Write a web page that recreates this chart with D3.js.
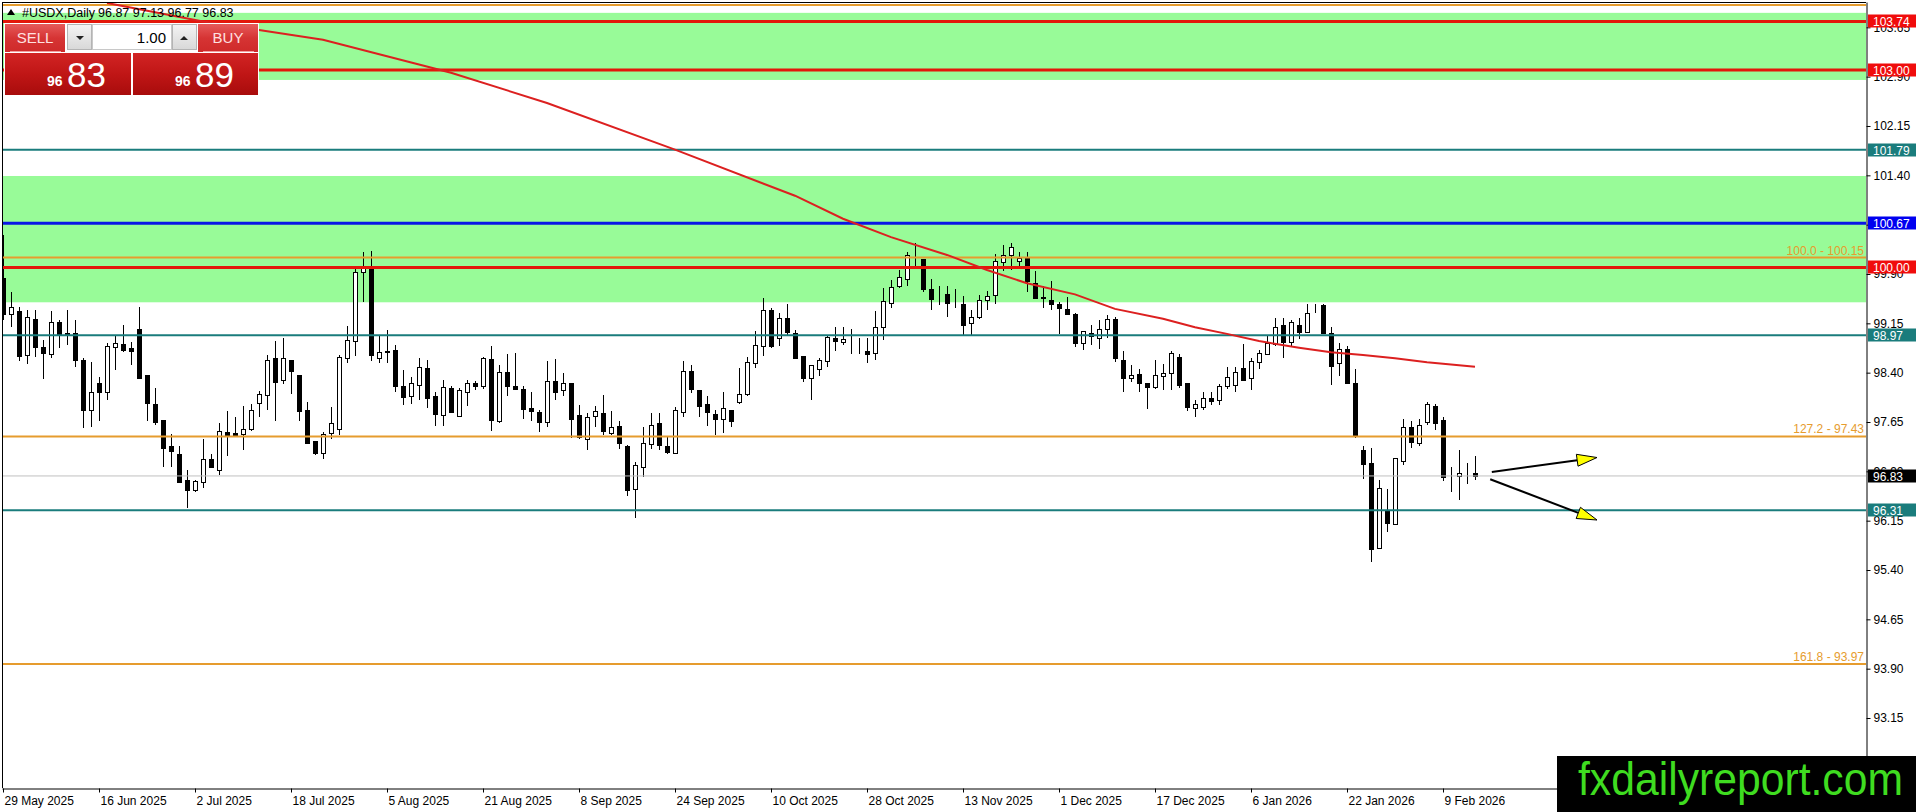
<!DOCTYPE html>
<html lang="en"><head><meta charset="utf-8">
<title>#USDX,Daily</title>
<script src="https://cdn.jsdelivr.net/npm/d3@7"></script>
<style>
body { margin: 0; background: #fff; overflow: hidden; }
svg { display: block; }
text { font-family: "Liberation Sans", Arial, sans-serif; }
</style>
</head>
<body>
<div id="chart"></div>
<script>
// ---- data ----
const dateTicks = ["29 May 2025", "16 Jun 2025", "2 Jul 2025", "18 Jul 2025", "5 Aug 2025", "21 Aug 2025",
	"8 Sep 2025", "24 Sep 2025", "10 Oct 2025", "28 Oct 2025", "13 Nov 2025", "1 Dec 2025",
	"17 Dec 2025", "6 Jan 2026", "22 Jan 2026", "9 Feb 2026"];
const dateTickIdx = [0, 12, 24, 36, 48, 60, 72, 84, 96, 108, 120, 132, 144, 156, 168, 180];
const priceTicks = [103.65, 102.90, 102.15, 101.40, 100.65, 99.90, 99.15, 98.40, 97.65, 96.90, 96.15, 95.40, 94.65, 93.90, 93.15];

const opens = [99.84, 99.30, 99.34, 98.66, 99.21, 98.79, 98.69, 99.17, 98.99, 99.01,
	98.60, 97.82, 98.24, 98.10, 98.79, 98.83, 98.77, 99.07, 98.36, 97.93,
	97.68, 97.28, 97.16, 96.77, 96.62, 96.73, 97.08, 96.93, 97.50, 97.48,
	97.47, 97.55, 97.93, 98.07, 98.62, 98.29, 98.60, 98.36, 97.83, 97.36,
	97.18, 97.48, 97.55, 98.63, 98.88, 99.93, 100.00, 98.62, 98.72, 98.74,
	98.20, 98.04, 98.20, 98.47, 98.05, 97.75, 98.17, 97.75, 98.12, 98.24,
	98.19, 98.61, 97.67, 98.41, 98.20, 98.15, 97.86, 97.80, 97.66, 98.28,
	98.14, 98.25, 97.76, 97.40, 97.73, 97.78, 97.49, 97.59, 97.28, 96.63,
	96.97, 97.32, 97.63, 97.29, 97.19, 97.81, 98.43, 98.14, 97.92, 97.77,
	97.69, 97.84, 97.95, 98.07, 98.54, 98.81, 99.36, 98.92, 99.23, 99.01,
	98.66, 98.31, 98.47, 98.58, 98.92, 98.86, 98.91, 98.78, 98.73, 98.71,
	99.10, 99.45, 99.72, 99.83, 100.14, 100.13, 99.67, 99.60, 99.59, 99.44,
	99.45, 99.15, 99.25, 99.50, 99.58, 100.08, 100.19, 100.11, 100.14, 99.77,
	99.54, 99.51, 99.44, 99.37, 99.29, 98.84, 99.01, 98.94, 99.07, 99.21,
	98.60, 98.31, 98.38, 98.25, 98.18, 98.35, 98.40, 98.64, 98.24, 97.87,
	97.89, 98.01, 97.99, 98.20, 98.21, 98.47, 98.31, 98.56, 98.69, 98.84,
	99.13, 98.86, 99.13, 99.02, 99.34, 99.43, 99.01, 98.54, 98.76, 98.25,
	97.22, 97.02, 95.73, 96.30, 96.11, 97.07, 97.58, 97.34, 97.64, 97.90,
	97.68, 96.83, 96.84, 96.87, 96.87];
const highs = [100.50, 99.63, 99.40, 99.35, 99.36, 98.90, 99.34, 99.20, 99.36, 99.20,
	98.62, 98.56, 98.34, 98.85, 98.96, 99.13, 98.87, 99.40, 98.37, 98.16,
	97.68, 97.47, 97.28, 96.92, 96.77, 97.39, 97.16, 97.63, 97.82, 97.73,
	97.89, 97.93, 98.12, 98.67, 98.88, 98.92, 98.60, 98.37, 97.96, 97.36,
	97.50, 97.88, 98.67, 99.11, 99.99, 100.23, 100.25, 98.96, 99.05, 98.82,
	98.44, 98.33, 98.63, 98.59, 98.11, 98.29, 98.20, 98.16, 98.29, 98.28,
	98.64, 98.81, 98.52, 98.69, 98.70, 98.19, 98.10, 97.84, 98.58, 98.61,
	98.40, 98.25, 97.91, 97.78, 97.90, 98.06, 97.82, 97.66, 97.30, 97.04,
	97.57, 97.79, 97.78, 97.43, 97.88, 98.58, 98.51, 98.14, 98.04, 97.84,
	98.10, 97.84, 98.47, 98.64, 99.03, 99.53, 99.39, 99.31, 99.45, 99.05,
	98.66, 98.51, 98.63, 98.97, 99.10, 99.10, 99.07, 98.93, 98.92, 99.33,
	99.68, 99.81, 99.96, 100.23, 100.37, 100.13, 99.83, 99.71, 99.72, 99.67,
	99.56, 99.36, 99.58, 99.64, 100.21, 100.34, 100.37, 100.24, 100.23, 99.94,
	99.72, 99.79, 99.48, 99.55, 99.30, 99.03, 99.12, 99.20, 99.28, 99.24,
	98.73, 98.51, 98.45, 98.25, 98.60, 98.53, 98.73, 98.69, 98.24, 97.99,
	98.10, 98.11, 98.23, 98.48, 98.48, 98.84, 98.63, 98.74, 98.97, 99.23,
	99.23, 99.20, 99.23, 99.45, 99.45, 99.45, 99.10, 98.85, 98.81, 98.46,
	97.28, 97.25, 96.77, 96.63, 97.11, 97.70, 97.66, 97.69, 97.96, 97.93,
	97.72, 96.97, 97.23, 97.03, 97.13];
const lows = [99.20, 99.10, 98.57, 98.53, 98.64, 98.31, 98.62, 98.78, 98.82, 98.49,
	97.56, 97.58, 97.66, 97.99, 98.44, 98.72, 98.51, 98.31, 97.67, 97.61,
	96.96, 96.96, 96.73, 96.34, 96.58, 96.65, 96.96, 96.85, 97.14, 97.44,
	97.23, 97.52, 97.73, 97.83, 97.67, 98.23, 98.07, 97.67, 97.33, 97.15,
	97.08, 97.39, 97.46, 98.54, 98.66, 99.48, 98.57, 98.55, 98.55, 98.10,
	97.91, 97.92, 97.99, 97.87, 97.59, 97.59, 97.81, 97.74, 97.90, 98.14,
	98.15, 97.52, 97.63, 98.05, 98.13, 97.70, 97.66, 97.50, 97.58, 97.98,
	98.04, 97.40, 97.39, 97.22, 97.57, 97.45, 97.46, 97.24, 96.53, 96.19,
	96.81, 97.24, 97.22, 97.17, 97.17, 97.72, 98.09, 97.73, 97.59, 97.45,
	97.49, 97.57, 97.93, 98.05, 98.47, 98.66, 98.78, 98.80, 98.95, 98.63,
	98.26, 97.98, 98.35, 98.48, 98.73, 98.82, 98.69, 98.69, 98.54, 98.59,
	98.90, 99.39, 99.68, 99.71, 99.99, 99.63, 99.35, 99.43, 99.25, 99.38,
	98.95, 98.95, 99.22, 99.35, 99.45, 99.95, 99.96, 100.01, 99.63, 99.52,
	99.39, 99.35, 98.99, 99.28, 98.79, 98.74, 98.82, 98.76, 98.93, 98.56,
	98.10, 98.26, 98.10, 97.85, 98.15, 98.14, 98.14, 98.16, 97.81, 97.72,
	97.83, 97.91, 97.91, 98.15, 98.11, 98.29, 98.13, 98.46, 98.67, 98.80,
	98.63, 98.80, 98.91, 99.01, 99.30, 98.99, 98.22, 98.35, 98.25, 97.40,
	96.78, 95.52, 95.73, 95.98, 96.11, 96.99, 97.25, 97.28, 97.61, 97.53,
	96.76, 96.58, 96.46, 96.70, 96.77];
const closes = [99.30, 99.40, 98.66, 99.24, 98.78, 98.70, 99.17, 98.99, 99.01, 98.60,
	97.84, 98.10, 98.10, 98.80, 98.85, 98.74, 98.73, 98.33, 97.93, 97.66,
	97.26, 97.21, 96.74, 96.62, 96.75, 97.08, 96.96, 97.52, 97.45, 97.45,
	97.55, 97.84, 98.07, 98.60, 98.25, 98.62, 98.43, 97.81, 97.33, 97.18,
	97.47, 97.63, 98.64, 98.90, 99.93, 100.01, 98.66, 98.71, 98.73, 98.19,
	98.04, 98.24, 98.48, 98.02, 97.77, 98.18, 97.81, 98.14, 98.25, 98.20,
	98.62, 97.68, 98.41, 98.20, 98.16, 97.84, 97.81, 97.65, 98.28, 98.11,
	98.25, 97.71, 97.43, 97.73, 97.81, 97.51, 97.58, 97.33, 96.61, 96.99,
	97.33, 97.61, 97.29, 97.20, 97.84, 98.43, 98.15, 97.90, 97.80, 97.70,
	97.86, 97.67, 98.07, 98.56, 98.82, 99.36, 98.81, 99.23, 99.01, 98.63,
	98.33, 98.51, 98.60, 98.94, 98.87, 98.91, 98.91, 98.78, 98.69, 99.10,
	99.49, 99.70, 99.85, 100.19, 100.14, 99.67, 99.52, 99.60, 99.45, 99.44,
	99.13, 99.24, 99.51, 99.56, 100.10, 100.19, 100.31, 100.15, 99.79, 99.54,
	99.55, 99.45, 99.38, 99.29, 98.85, 99.03, 98.96, 99.07, 99.22, 98.62,
	98.33, 98.36, 98.25, 98.19, 98.37, 98.40, 98.70, 98.22, 97.87, 97.93,
	98.02, 97.97, 98.20, 98.34, 98.41, 98.29, 98.57, 98.70, 98.85, 99.10,
	98.87, 99.17, 99.03, 99.31, 99.34, 99.01, 98.51, 98.76, 98.25, 97.45,
	97.01, 95.71, 96.64, 96.12, 97.11, 97.58, 97.35, 97.61, 97.92, 97.64,
	96.81, 96.83, 96.88, 96.87, 96.83];

// red moving average, sampled at bar indices
const maIdx = [13, 25, 32, 40, 56, 68, 84, 99, 105, 111, 118, 123, 128, 134, 139, 145, 149, 153, 157, 162, 166, 170, 174, 178, 184];
const maVal = [104.02, 103.74, 103.61, 103.46, 102.96, 102.50, 101.79, 101.09, 100.74, 100.46, 100.19, 99.96, 99.76,
	99.59, 99.37, 99.22, 99.09, 98.99, 98.88, 98.78, 98.71, 98.67, 98.62, 98.56, 98.49];

// supply/demand zones
const zoneLow = [102.85, 99.47];
const zoneHigh = [103.87, 101.39];

// horizontal levels
const redLevels = [103.74, 103.00, 100.00];
const tealLevels = [101.79, 98.97, 96.31];
const blueLevels = [100.67];
const fibLevels = [103.99, 100.15, 97.43, 93.97];
const fibNames = ["", "100.0", "127.2", "161.8"];   // top line's label falls off the chart
const bidPrice = 96.83;
const askPrice = 96.89;
const lotSize = "1.00";

// projection arrows: [bar index, price]
const arrowFrom = [[186.1, 96.89], [185.9, 96.78]];
const arrowTo = [[199.25, 97.11], [199.25, 96.16]];

// ---- drawing ----
const W = 1916, H = 812;
const plot = { left: 2, top: 2, right: 1866, bottom: 788 };
const C = {
	zone: "#98fb98", red: "#e3170a", redTag: "#f00c0c", teal: "#1a7c7c", blue: "#0a14e6",
	fib: "#e69c2e", bid: "#c0c0c0", ma: "#dc2020"
};

const svg = d3.select("#chart").append("svg").attr("width", W).attr("height", H);
const defs = svg.append("defs");
defs.append("clipPath").attr("id", "plot-clip")
	.append("rect").attr("x", plot.left).attr("y", plot.top)
	.attr("width", plot.right - plot.left).attr("height", plot.bottom - plot.top);

const x = d3.scaleLinear().domain([-0.125, 232.875]).range([plot.left, plot.right]);
const y = d3.scaleLinear().domain([92.086, 104.035]).range([plot.bottom, plot.top]);
const px = v => Math.round(v) + 0.5;

const g = svg.append("g").attr("clip-path", "url(#plot-clip)");

// zones (background)
g.selectAll("rect.zone").data(zoneLow.map((lo, i) => [lo, zoneHigh[i]])).join("rect")
	.attr("class", "zone")
	.attr("x", plot.left).attr("width", plot.right - plot.left)
	.attr("y", d => y(d[1])).attr("height", d => y(d[0]) - y(d[1]))
	.attr("fill", C.zone);

// candles
const bars = d3.range(opens.length);
const cg = g.append("g").attr("shape-rendering", "crispEdges");
cg.selectAll("line.wick").data(bars).join("line")
	.attr("x1", i => px(x(i))).attr("x2", i => px(x(i)))
	.attr("y1", i => y(highs[i])).attr("y2", i => y(lows[i]))
	.attr("stroke", "#000");
cg.selectAll("rect.body").data(bars).join("rect")
	.attr("x", i => Math.round(x(i)) - 2 + 0.5)
	.attr("width", 4)
	.attr("y", i => px(y(Math.max(opens[i], closes[i]))))
	.attr("height", i => Math.max(0, Math.round(y(Math.min(opens[i], closes[i])) - y(Math.max(opens[i], closes[i])))))
	.attr("fill", i => closes[i] >= opens[i] ? "#fff" : "#000")
	.attr("stroke", "#000");

// horizontal lines
function hlines(vals, color, width) {
	g.append("g").selectAll("line").data(vals).join("line")
		.attr("x1", plot.left).attr("x2", plot.right)
		.attr("y1", d => y(d)).attr("y2", d => y(d))
		.attr("stroke", color).attr("stroke-width", width);
}
hlines([bidPrice], C.bid, 1);
hlines(fibLevels, C.fib, 2);
hlines(tealLevels, C.teal, 2);
hlines(blueLevels, C.blue, 3);
hlines(redLevels, C.red, 3);

// fib labels
g.append("g").selectAll("text").data(fibLevels.filter((d, i) => fibNames[i])).join("text")
	.attr("x", plot.right - 2).attr("y", d => y(d) - 3)
	.attr("text-anchor", "end").attr("font-size", 12).attr("fill", C.fib)
	.text(d => `${fibNames[fibLevels.indexOf(d)]} - ${d.toFixed(2)}`);

// moving average
g.append("path")
	.datum(maIdx.map((d, i) => [d, maVal[i]]))
	.attr("fill", "none").attr("stroke", C.ma).attr("stroke-width", 2)
	.attr("d", d3.line().x(d => x(d[0])).y(d => y(d[1])));

// arrows
arrowFrom.forEach((a, i) => {
	const x1 = x(a[0]), y1 = y(a[1]), x2 = x(arrowTo[i][0]), y2 = y(arrowTo[i][1]);
	const ang = Math.atan2(y2 - y1, x2 - x1);
	const len = 20, hw = 6;
	const bx = x2 - len * Math.cos(ang), by = y2 - len * Math.sin(ang);
	svg.append("line").attr("x1", x1).attr("y1", y1).attr("x2", bx).attr("y2", by)
		.attr("stroke", "#000").attr("stroke-width", 2);
	const pts = [[x2, y2],
		[bx + hw * Math.sin(ang), by - hw * Math.cos(ang)],
		[bx - hw * Math.sin(ang), by + hw * Math.cos(ang)]];
	svg.append("path").attr("d", "M" + pts.join("L") + "Z")
		.attr("fill", "#ffff00").attr("stroke", "#000").attr("stroke-width", 1);
});

// frame
svg.append("line").attr("x1", plot.left + 0.5).attr("x2", plot.left + 0.5)
	.attr("y1", plot.top).attr("y2", plot.bottom).attr("stroke", "#000");
svg.append("line").attr("x1", plot.left).attr("x2", plot.right)
	.attr("y1", plot.top + 0.5).attr("y2", plot.top + 0.5).attr("stroke", "#000");

// price axis
const yAxis = svg.append("g")
	.attr("transform", `translate(${plot.right + 0.5},0)`)
	.call(d3.axisRight(y).tickValues(priceTicks).tickSize(4).tickSizeOuter(0).tickPadding(3)
		.tickFormat(d3.format(".2f")));
yAxis.attr("font-size", 12).attr("font-family", "Liberation Sans, Arial, sans-serif");
yAxis.selectAll("text").attr("fill", "#000");

// date axis
const xAxis = svg.append("g")
	.attr("transform", `translate(0,${plot.bottom + 0.5})`)
	.call(d3.axisBottom(x).tickValues(dateTickIdx).tickSize(4).tickSizeOuter(0).tickPadding(4)
		.tickFormat((d, i) => dateTicks[i]));
xAxis.attr("font-size", 12).attr("font-family", "Liberation Sans, Arial, sans-serif");
xAxis.selectAll("text").attr("text-anchor", "start").attr("x", 1).attr("fill", "#000");

// price tags on the axis
function tags(vals, bg) {
	const t = svg.append("g").selectAll("g").data(vals).join("g")
		.attr("transform", d => `translate(${plot.right + 2},${Math.round(y(d))})`);
	t.append("rect").attr("x", 0).attr("y", -6.5).attr("width", W - plot.right - 2).attr("height", 13).attr("fill", bg);
	t.append("text").attr("x", 5).attr("y", 4.5).attr("font-size", 12).attr("fill", "#fff")
		.text(d => d.toFixed(2));
}
tags(redLevels, C.redTag);
tags(tealLevels, C.teal);
tags(blueLevels, "#0000f0");
tags([bidPrice], "#000");

// header
svg.append("path").attr("d", "M7,15L15,15L11,9Z").attr("fill", "#000");
const last = opens.length - 1;
svg.append("text").attr("x", 22).attr("y", 17).attr("font-size", 12.5).text("#USDX,Daily");
svg.append("text").attr("x", 98).attr("y", 17).attr("font-size", 12.5)
	.text([opens[last], highs[last], lows[last], closes[last]].map(v => v.toFixed(2)).join(" "));

// one-click trading panel
const grad = (id, stops) => {
	const lg = defs.append("linearGradient").attr("id", id).attr("x1", 0).attr("x2", 0).attr("y1", 0).attr("y2", 1);
	stops.forEach((s, i) => lg.append("stop").attr("offset", i / (stops.length - 1)).attr("stop-color", s));
};
grad("btnRed", ["#e65a5a", "#d63434", "#cf2a2a"]);
grad("boxRed", ["#d22424", "#c01616", "#a80c0c"]);
grad("btnGray", ["#f4f4f4", "#d8d8d8"]);

const p = svg.append("g");
p.append("rect").attr("x", 4).attr("y", 23).attr("width", 255).attr("height", 73).attr("fill", "#fff");
[[5, "SELL"], [198, "BUY"]].forEach(([bx, label]) => {
	p.append("rect").attr("x", bx).attr("y", 24).attr("width", 60).attr("height", 28).attr("fill", "url(#btnRed)");
	p.append("line").attr("x1", bx + 5).attr("x2", bx + 56).attr("y1", 51.5).attr("y2", 51.5).attr("stroke", "#f2a0a0");
	p.append("text").attr("x", bx + 30).attr("y", 43).attr("text-anchor", "middle")
		.attr("font-size", 15).attr("fill", "#ffe0e0").text(label);
});
[[67.5, "M76,36L84,36L80,40Z"], [172.5, "M180,40L188,40L184,36Z"]].forEach(([bx, tri]) => {
	p.append("rect").attr("x", bx).attr("y", 24.5).attr("width", 24).attr("height", 25)
		.attr("fill", "url(#btnGray)").attr("stroke", "#b4b4b4");
	p.append("path").attr("d", tri).attr("fill", "#222");
});
p.append("rect").attr("x", 92.5).attr("y", 24.5).attr("width", 79).attr("height", 25)
	.attr("fill", "#fff").attr("stroke", "#c8c8c8");
p.append("text").attr("x", 166).attr("y", 43).attr("text-anchor", "end").attr("font-size", 15).text(lotSize);

[[5, 126, bidPrice], [133, 125, askPrice]].forEach(([bx, bw, price]) => {
	const s = price.toFixed(2).split(".");
	p.append("rect").attr("x", bx).attr("y", 53).attr("width", bw).attr("height", 42).attr("fill", "url(#boxRed)");
	p.append("text").attr("x", bx + 42).attr("y", 86).attr("font-size", 14).attr("font-weight", "bold")
		.attr("fill", "#fff").text(s[0]);
	p.append("text").attr("x", bx + 62).attr("y", 87).attr("font-size", 35).attr("fill", "#fff").text(s[1]);
});

// watermark
svg.append("rect").attr("x", 1557).attr("y", 756).attr("width", W - 1557).attr("height", H - 756).attr("fill", "#000");
svg.append("text").attr("x", 1578).attr("y", 795).attr("font-size", 46)
	.attr("textLength", 325).attr("lengthAdjust", "spacingAndGlyphs")
	.attr("fill", "#3fdc20").text("fxdailyreport.com");
</script>
</body>
</html>
